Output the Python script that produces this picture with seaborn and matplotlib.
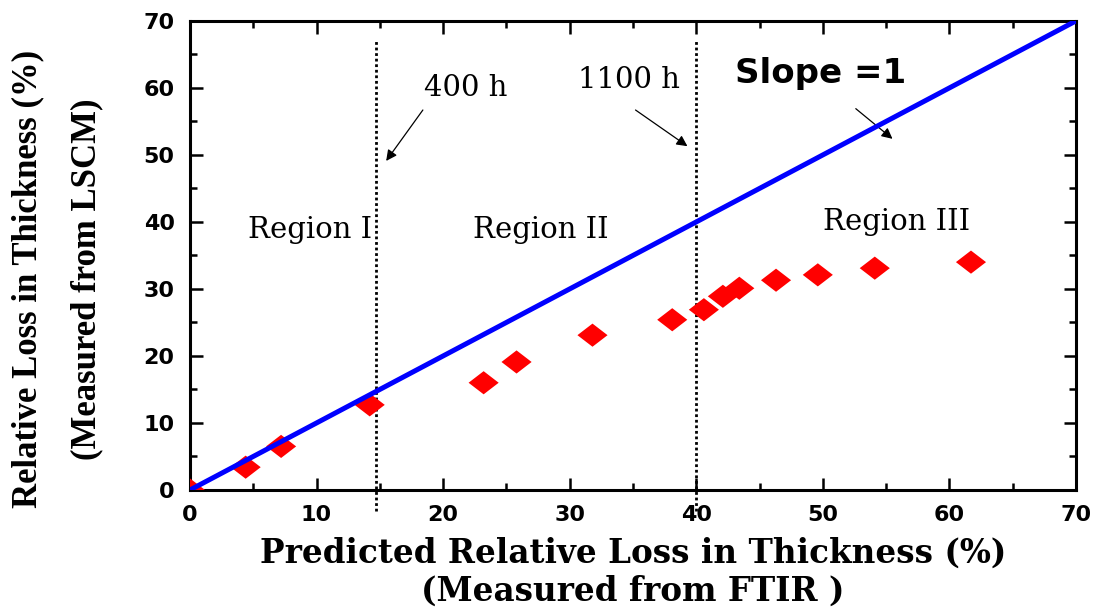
import numpy as np
import pandas as pd
import matplotlib
matplotlib.use("Agg")
import matplotlib.pyplot as plt
import seaborn as sns
from matplotlib.ticker import MultipleLocator

# Predicted (FTIR) vs measured (LSCM) relative loss in thickness, %
ftir_loss = [0.0, 4.4, 7.2, 14.2, 23.2, 25.8, 31.8, 38.1, 40.6, 42.1, 43.4, 46.3, 49.6, 54.1, 61.7]
lscm_loss = [0.0, 3.4, 6.5, 12.7, 16.0, 19.1, 23.1, 25.4, 26.9, 28.9, 30.1, 31.3, 32.1, 33.1, 34.0]

# Reference line of slope 1
ref_x = [0, 70]
ref_y = [0, 70]

# Exposure-time boundaries between regions (FTIR loss, %)
boundary_x = [14.7, 40.0]
boundary_labels = ["400 h", "1100 h"]
region_labels = ["Region I", "Region II", "Region III"]

sns.set_theme(style="ticks")
plt.rcParams["font.family"] = ["DejaVu Sans"]

fig = plt.figure(figsize=(10.98, 6.14), dpi=100)
ax = fig.add_axes([0.173, 0.202, 0.807, 0.764])

df = pd.DataFrame({"ftir": ftir_loss, "lscm": lscm_loss})

# wide diamond marker
diamond = [(-1.3, 0.0), (0.0, 1.0), (1.3, 0.0), (0.0, -1.0), (-1.3, 0.0)]
sns.scatterplot(data=df, x="ftir", y="lscm", ax=ax, marker=diamond, s=470,
                color="#ff0000", edgecolor="none", linewidth=0, zorder=3,
                legend=False)

sns.lineplot(x=ref_x, y=ref_y, ax=ax, color="#0000ff", lw=3.6, zorder=4,
             legend=False)

for bx in boundary_x:
    ax.plot([bx, bx], [-3.2, 67.0], color="black", lw=2.0,
            linestyle=(0, (1, 1)), zorder=2, clip_on=False)

ax.set_xlim(0, 70)
ax.set_ylim(0, 70)
ax.xaxis.set_major_locator(MultipleLocator(10))
ax.yaxis.set_major_locator(MultipleLocator(10))
ax.xaxis.set_minor_locator(MultipleLocator(5))
ax.yaxis.set_minor_locator(MultipleLocator(5))
ax.tick_params(which="both", direction="in", top=True, right=True,
               width=1.8, color="black")
ax.tick_params(which="major", length=9)
ax.tick_params(which="minor", length=5)
ax.tick_params(axis="x", which="major", pad=11)
ax.tick_params(axis="y", which="major", pad=11)
for lab in ax.get_xticklabels() + ax.get_yticklabels():
    lab.set_fontfamily("DejaVu Sans")
    lab.set_fontweight("bold")
    lab.set_fontsize(16)
    lab.set_color("black")
for sp in ax.spines.values():
    sp.set_visible(True)
    sp.set_linewidth(2.2)
    sp.set_color("black")

ax.set_xlabel("Predicted Relative Loss in Thickness (%)\n(Measured from FTIR )",
              fontfamily="DejaVu Serif", fontweight="bold", fontsize=23.5,
              linespacing=1.2, labelpad=8, color="black")
ax.set_ylabel("Relative Loss in Thickness (%)\n(Measured from LSCM)",
              fontfamily="Liberation Serif", fontweight="bold", fontsize=25,
              linespacing=2.05, color="black")
ax.yaxis.set_label_coords(-0.098, 0.45)

serif = dict(fontfamily="DejaVu Serif", fontsize=21, color="black",
             ha="center", va="center")
ax.text(9.5, 38.8, region_labels[0], **serif)
ax.text(27.7, 38.8, region_labels[1], **serif)
ax.text(55.8, 40.0, region_labels[2], **serif)

arrow = dict(arrowstyle="-|>", color="black", lw=0.9, mutation_scale=16,
             shrinkA=0, shrinkB=0)
ax.annotate("", xy=(15.5, 49.1), xytext=(18.4, 56.7), arrowprops=arrow)
ax.text(21.8, 60.0, boundary_labels[0], **serif)
ax.annotate("", xy=(39.3, 51.3), xytext=(35.2, 56.7), arrowprops=arrow)
ax.text(34.7, 61.2, boundary_labels[1], **serif)
ax.annotate("", xy=(55.5, 52.4), xytext=(52.6, 56.9), arrowprops=arrow)
ax.text(49.8, 62.2, "Slope =1", fontfamily="DejaVu Sans", fontweight="bold",
        fontsize=24.5, color="black", ha="center", va="center")

fig.savefig("out.png", dpi=100, facecolor="white")
